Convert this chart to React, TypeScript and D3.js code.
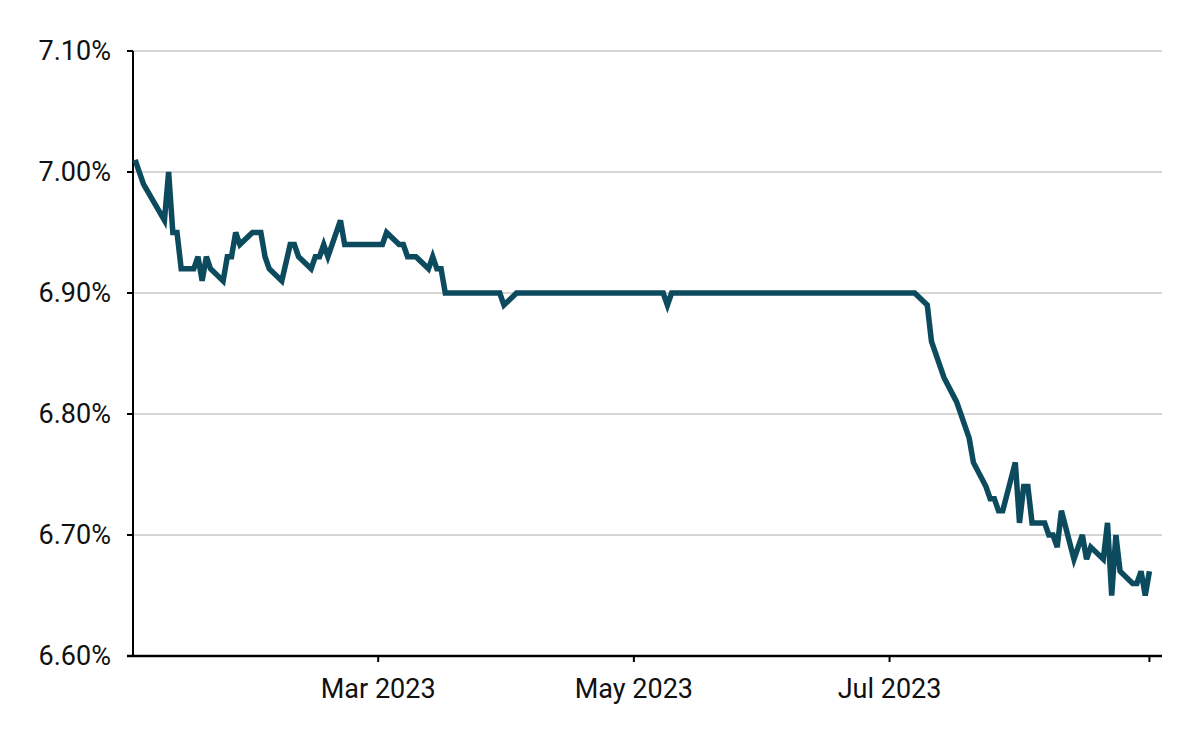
import React from "react";
import * as d3 from "d3";

const dates: string[] = [
  "2023-01-02", "2023-01-04", "2023-01-09", "2023-01-10", "2023-01-11", "2023-01-12", "2023-01-13",
  "2023-01-16", "2023-01-17", "2023-01-18", "2023-01-19", "2023-01-20", "2023-01-23", "2023-01-24",
  "2023-01-25", "2023-01-26", "2023-01-27", "2023-01-30", "2023-02-01", "2023-02-02", "2023-02-03",
  "2023-02-06", "2023-02-08", "2023-02-09", "2023-02-10", "2023-02-13", "2023-02-14", "2023-02-15",
  "2023-02-16", "2023-02-17", "2023-02-20", "2023-02-21", "2023-03-02", "2023-03-03", "2023-03-06",
  "2023-03-07", "2023-03-08", "2023-03-10", "2023-03-13", "2023-03-14", "2023-03-15", "2023-03-16",
  "2023-03-17", "2023-03-30", "2023-03-31", "2023-04-03", "2023-05-08", "2023-05-09", "2023-05-10",
  "2023-07-07", "2023-07-10", "2023-07-11", "2023-07-14", "2023-07-17", "2023-07-20", "2023-07-21",
  "2023-07-24", "2023-07-25", "2023-07-26", "2023-07-27", "2023-07-28", "2023-07-31", "2023-08-01",
  "2023-08-02", "2023-08-03", "2023-08-04", "2023-08-07", "2023-08-08", "2023-08-09", "2023-08-10",
  "2023-08-11", "2023-08-14", "2023-08-16", "2023-08-17", "2023-08-18", "2023-08-21", "2023-08-22",
  "2023-08-23", "2023-08-24", "2023-08-25", "2023-08-28", "2023-08-29", "2023-08-30", "2023-08-31",
  "2023-09-01",
];

const rates: number[] = [
  7.01, 6.99, 6.96, 7.0, 6.95, 6.95, 6.92,
  6.92, 6.93, 6.91, 6.93, 6.92, 6.91, 6.93,
  6.93, 6.95, 6.94, 6.95, 6.95, 6.93, 6.92,
  6.91, 6.94, 6.94, 6.93, 6.92, 6.93, 6.93,
  6.94, 6.93, 6.96, 6.94, 6.94, 6.95, 6.94,
  6.94, 6.93, 6.93, 6.92, 6.93, 6.92, 6.92,
  6.9, 6.9, 6.89, 6.9, 6.9, 6.89, 6.9,
  6.9, 6.89, 6.86, 6.83, 6.81, 6.78, 6.76,
  6.74, 6.73, 6.73, 6.72, 6.72, 6.76, 6.71,
  6.74, 6.74, 6.71, 6.71, 6.7, 6.7, 6.69,
  6.72, 6.68, 6.7, 6.68, 6.69, 6.68, 6.71,
  6.65, 6.7, 6.67, 6.66, 6.66, 6.67, 6.65,
  6.67,
];

const yTicks: number[] = [6.6, 6.7, 6.8, 6.9, 7.0, 7.1];
const xTickDates: string[] = ["2023-03-01", "2023-05-01", "2023-07-01", "2023-09-01"];
const xTickLabels: string[] = ["Mar 2023", "May 2023", "Jul 2023", ""];
const xDomain: string[] = ["2023-01-01T12", "2023-09-04"];

const parse = (s: string) => new Date(s.length > 10 ? s + ":00:00Z" : s + "T00:00:00Z");

export default function App() {
  const W = 1200;
  const H = 742;
  const left = 133;
  const right = 1162;
  const top = 51;
  const bottom = 656;

  const x = d3
    .scaleUtc()
    .domain(xDomain.map((d) => parse(d)))
    .range([left, right]);
  const y = d3.scaleLinear().domain([6.6, 7.1]).range([bottom, top]);

  const data = dates.map((d, i) => ({ date: parse(d), value: rates[i] }));
  const line = d3
    .line<{ date: Date; value: number }>()
    .x((d) => x(d.date))
    .y((d) => y(d.value));

  const font = "Roboto, 'Noto Sans', sans-serif";

  return (
    <svg
      width={W}
      height={H}
      style={{ position: "absolute", left: 0, top: 0, background: "#fff" }}
    >
      {yTicks.map((t) => (
        <g key={"g" + t}>
          {t > 6.6 && (
            <line x1={left} x2={right} y1={y(t)} y2={y(t)} stroke="#c9c9c9" strokeWidth={1.5} />
          )}
          <line x1={left - 6} x2={left} y1={y(t)} y2={y(t)} stroke="#000" strokeWidth={2} />
          <text
            x={111}
            y={y(t)}
            dy="0.35em"
            textAnchor="end"
            fontFamily={font}
            fontSize={27}
            fill="#111"
          >
            {t.toFixed(2) + "%"}
          </text>
        </g>
      ))}
      <line x1={left} x2={left} y1={top} y2={bottom} stroke="#000" strokeWidth={2} />
      <line x1={left - 6} x2={right} y1={bottom} y2={bottom} stroke="#000" strokeWidth={2.5} />
      {xTickDates.map((d, i) => {
        const xx = x(parse(d));
        return (
          <g key={"x" + d}>
            <line x1={xx} x2={xx} y1={bottom} y2={bottom + 6} stroke="#000" strokeWidth={2} />
            {xTickLabels[i] && (
              <text
                x={xx}
                y={698}
                textAnchor="middle"
                fontFamily={font}
                fontSize={27}
                fill="#111"
              >
                {xTickLabels[i]}
              </text>
            )}
          </g>
        );
      })}
      <path
        d={line(data) || ""}
        fill="none"
        stroke="#0c4a5d"
        strokeWidth={5.5}
        strokeLinejoin="miter"
        strokeMiterlimit={4}
      />
    </svg>
  );
}
